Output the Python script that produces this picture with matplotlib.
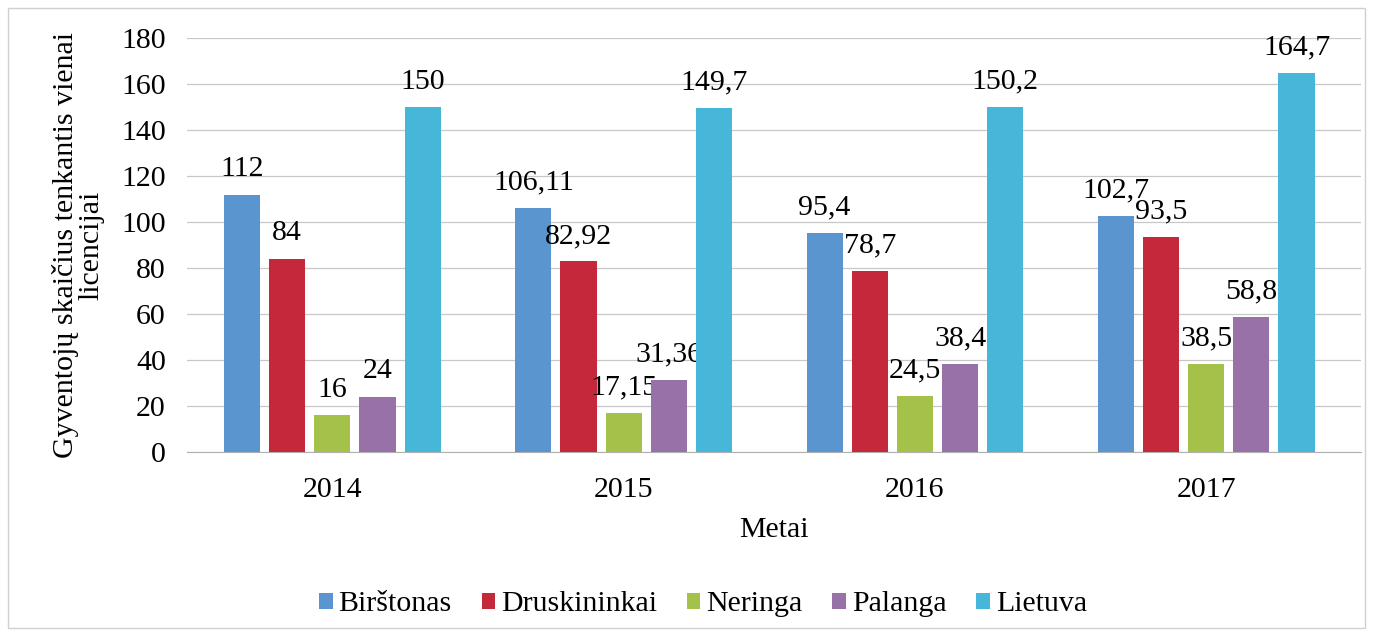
import matplotlib.pyplot as plt
import numpy as np
from matplotlib.patches import Rectangle

plt.rcParams['font.family'] = ['Liberation Serif', 'DejaVu Serif']

years = ['2014', '2015', '2016', '2017']
series = ['Birštonas', 'Druskininkai', 'Neringa', 'Palanga', 'Lietuva']
birstonas = [112, 106.11, 95.4, 102.7]
druskininkai = [84, 82.92, 78.7, 93.5]
neringa = [16, 17.15, 24.5, 38.5]
palanga = [24, 31.36, 38.4, 58.8]
lietuva = [150, 149.7, 150.2, 164.7]
labels_birstonas = ['112', '106,11', '95,4', '102,7']
labels_druskininkai = ['84', '82,92', '78,7', '93,5']
labels_neringa = ['16', '17,15', '24,5', '38,5']
labels_palanga = ['24', '31,36', '38,4', '58,8']
labels_lietuva = ['150', '149,7', '150,2', '164,7']

values = [birstonas, druskininkai, neringa, palanga, lietuva]
labels = [labels_birstonas, labels_druskininkai, labels_neringa,
          labels_palanga, labels_lietuva]
colors = ['#5b95cf', '#c4283a', '#a4c24a', '#9871a9', '#46b6d9']
fs = 21.5

fig = plt.figure(figsize=(13.73, 6.36), dpi=100)
ax = fig.add_axes([0.136, 0.289, 0.855, 0.651])

x = np.arange(len(years))
step = 0.155
width = 0.124
for i in range(len(series)):
    bars = ax.bar(x + (i - 2) * step, values[i], width, color=colors[i],
                  label=series[i], zorder=3)
    ax.bar_label(bars, labels=labels[i], padding=9, fontsize=fs)

ax.set_ylim(0, 180)
ax.set_yticks(range(0, 181, 20))
ax.set_xlim(-0.5, 3.53)
ax.set_xticks(x)
ax.set_xticklabels(years)
ax.tick_params(axis='both', length=0, labelsize=fs)
ax.tick_params(axis='y', pad=15)
ax.tick_params(axis='x', pad=18)
ax.grid(axis='y', color='#c8c8c8', linewidth=0.9, zorder=0)
for s in ['top', 'right', 'left']:
    ax.spines[s].set_visible(False)
ax.spines['bottom'].set_color('#b0b0b0')

ax.set_ylabel('Gyventojų skaičius tenkantis vienai\nlicencijai', fontsize=fs,
              linespacing=0.95, labelpad=12)
ax.set_xlabel('Metai', fontsize=fs, labelpad=10)

fig.legend(loc='center', bbox_to_anchor=(0.512, 0.05), ncol=5, frameon=False,
           fontsize=fs, handlelength=0.45, handleheight=0.45,
           handletextpad=0.2, columnspacing=1.0)

fig.patches.append(Rectangle((0.006, 0.012), 0.988, 0.976, transform=fig.transFigure,
                             fill=False, edgecolor='#d0d0d0', linewidth=1))

fig.savefig('out.png', dpi=100)
